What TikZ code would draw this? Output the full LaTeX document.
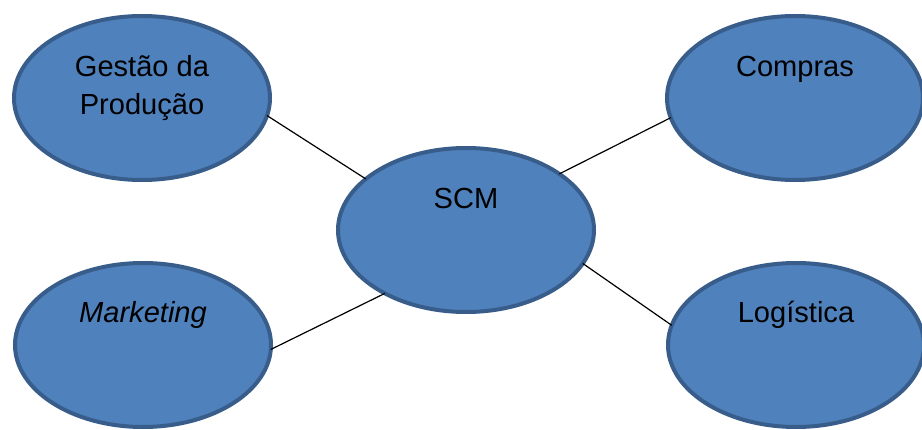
\documentclass[tikz,border=0pt]{standalone}
\usepackage{fontspec}
\setmainfont{Liberation Sans}
\usetikzlibrary{shapes.geometric,calc}
\definecolor{bubblefill}{HTML}{4F81BD}
\definecolor{bubbleedge}{HTML}{385D8A}
\tikzset{
  bubble/.style={ellipse, draw=bubbleedge, fill=bubblefill, line width=3pt,
    minimum width=192pt, minimum height=123pt, inner sep=0pt, outer sep=0pt},
  caption/.style={anchor=base, inner sep=0pt, font=\fontsize{21.8pt}{26pt}\selectfont, text=black},
  link/.style={draw=black, line width=0.9pt}
}
\begin{document}
\begin{tikzpicture}[x=0.75pt,y=0.75pt]
  \useasboundingbox (0,0) rectangle (922,429);
  \clip (0,0) rectangle (922,429);

  % the five topic bubbles
  \node[bubble] (gp)  at (142,331) {};
  \node[bubble] (mk)  at (143,84)  {};
  \node[bubble] (scm) at (466,199) {};
  \node[bubble] (cp)  at (795,331) {};
  \node[bubble] (lg)  at (796,84)  {};

  % captions, set in the upper part of each bubble
  \node[caption] (gpa) at ($(gp)+(0,21)$)  {Gestão da};
  \node[caption] (gpb) at ($(gp)+(0,-17)$) {Produção};
  \node[caption] (mkt) at ($(mk)+(0,22)$)  {\itshape Marketing};
  \node[caption] (scmt) at ($(scm)+(0,21)$) {SCM};
  \node[caption] (cpt) at ($(cp)+(0,21)$)  {Compras};
  \node[caption] (lgt) at ($(lg)+(0,23)$)  {Logística};

  % links from SCM to the other areas
  \draw[link] (gp.-8.3)  -- (scm.153.7);
  \draw[link] (scm.31.7) -- (cp.189.2);
  \draw[link] (scm.-16.7) -- (lg.171.9);
  \draw[link] (mk.-2.2)  -- (scm.218.9);
\end{tikzpicture}
\end{document}
